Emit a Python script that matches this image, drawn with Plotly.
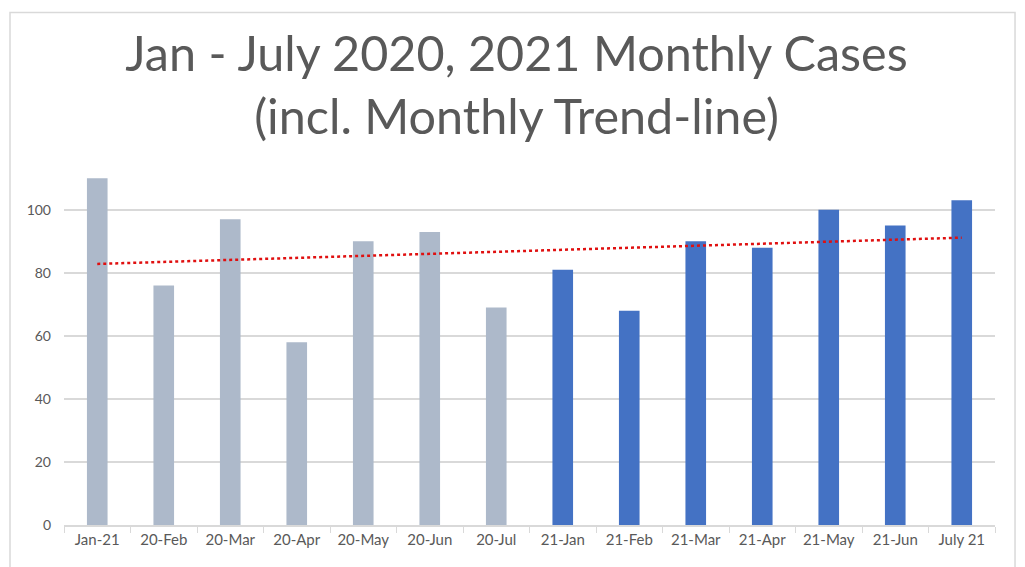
import numpy as np
import plotly.graph_objects as go

# monthly data
months = ["Jan-21", "20-Feb", "20-Mar", "20-Apr", "20-May", "20-Jun", "20-Jul",
          "21-Jan", "21-Feb", "21-Mar", "21-Apr", "21-May", "21-Jun", "July 21"]
cases = [110, 76, 97, 58, 90, 93, 69, 81, 68, 90, 88, 100, 95, 103]
year_2020 = [True] * 7 + [False] * 7

GREY_BAR = "#ADB9CA"
BLUE_BAR = "#4472C4"
TEXT = "#595959"
GRID = "#D9D9D9"

bar_colors = [GREY_BAR if y20 else BLUE_BAR for y20 in year_2020]

# linear trend line, like the Excel one
idx = np.arange(1, len(cases) + 1)
slope, intercept = np.polyfit(idx, cases, 1)
trend = slope * idx + intercept

fig = go.Figure()
fig.add_trace(go.Bar(x=months, y=cases, marker=dict(color=bar_colors, line=dict(width=0)),
                     width=0.31, showlegend=False))
fig.add_trace(go.Scatter(x=months, y=trend, mode="lines", showlegend=False,
                         line=dict(color="#E01010", width=2.5, dash="dot")))

# page body has an 8px margin, so the figure is a bit smaller than the window
fig.update_layout(
    width=1017, height=559,
    margin=dict(l=56, r=30, t=164, b=42),
    paper_bgcolor="white", plot_bgcolor="white",
    font=dict(family="Lato", color=TEXT, size=15),
    title=dict(text="Jan - July 2020, 2021 Monthly Cases<br>(incl. Monthly Trend-line)",
               x=0.5, xanchor="center", y=0.887, yref="container", yanchor="top",
               font=dict(size=48.5, color=TEXT, family="Lato")),
    bargap=0.7,
)
fig.update_xaxes(showgrid=False, showline=True, linecolor=GRID, linewidth=1.5,
                 ticks="outside", tickson="boundaries", ticklen=6, tickcolor=GRID,
                 tickfont=dict(size=15, color=TEXT))
fig.update_yaxes(range=[0, 112], tick0=0, dtick=20, showgrid=True, gridcolor=GRID,
                 gridwidth=1.5, zeroline=False, showline=False, ticks="",
                 ticklabelstandoff=12, tickfont=dict(size=14, color=TEXT))

# light chart border
fig.add_shape(type="rect", xref="paper", yref="paper",
              x0=-0.058, x1=1.0215, y0=-0.2, y1=1.452,
              line=dict(color=GRID, width=1.5), layer="below")

fig.write_html("out.html")
